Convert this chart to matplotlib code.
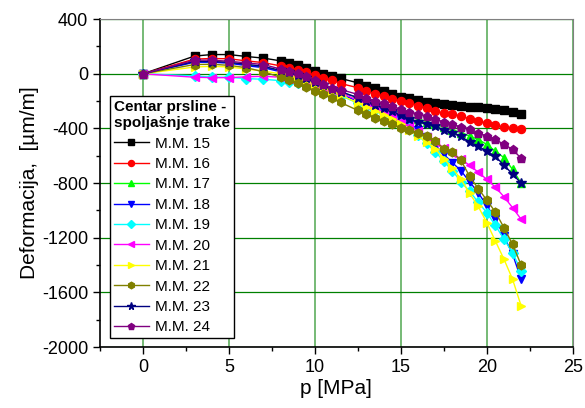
import numpy as np
import matplotlib
matplotlib.use("Agg")
import matplotlib.pyplot as plt
from matplotlib.ticker import MultipleLocator

plt.rcParams['font.family'] = ['Arial', 'Liberation Sans', 'DejaVu Sans']
plt.rcParams['axes.unicode_minus'] = False

p = [0, 3, 4, 5, 6, 7, 8, 8.5, 9, 9.5, 10, 10.5, 11, 11.5, 12.5, 13, 13.5, 14, 14.5,
     15, 15.5, 16, 16.5, 17, 17.5, 18, 18.5, 19, 19.5, 20, 20.5, 21, 21.5, 22]

mm15 = [0, 130, 141, 141, 127, 115, 95, 82, 65, 45, 19, 2, -17, -34, -66, -90, -107, -127, -146,
        -168, -180, -193, -207, -215, -224, -226, -234, -240, -245, -249, -254, -266, -280, -292]
mm16 = [0, 108, 112, 110, 95, 82, 58, 45, 30, 10, -12, -29, -47, -71, -102, -127, -146, -164, -183,
        -200, -212, -232, -252, -275, -287, -295, -310, -330, -342, -362, -374, -392, -400, -407]
mm17 = [0, 88, 88, 82, 65, 50, 20, 5, -15, -35, -65, -90, -115, -135, -175, -200, -220, -245, -265,
        -285, -310, -330, -350, -370, -390, -410, -430, -456, -480, -517, -566, -614, -700, -800]
mm18 = [0, 85, 85, 78, 60, 45, 15, 0, -20, -45, -75, -100, -125, -150, -200, -225, -250, -275, -300,
        -330, -365, -410, -460, -520, -590, -650, -710, -790, -870, -965, -1060, -1190, -1320, -1504]
mm19 = [0, -15, -25, -25, -35, -40, -50, -58, -70, -85, -100, -120, -140, -160, -215, -240, -265, -290, -320,
        -350, -395, -450, -510, -570, -640, -710, -790, -860, -940, -1016, -1110, -1210, -1310, -1443]
mm20 = [0, -25, -28, -28, -22, -18, -25, -35, -45, -60, -75, -95, -115, -135, -195, -225, -250, -280, -310,
        -345, -385, -420, -460, -500, -540, -580, -625, -670, -720, -773, -830, -900, -980, -1065]
mm21 = [0, 50, 55, 50, 35, 20, 0, -15, -35, -55, -80, -105, -130, -155, -215, -245, -275, -300, -330,
        -370, -410, -456, -500, -550, -620, -690, -773, -875, -970, -1089, -1224, -1357, -1504, -1699]
mm22 = [0, 68, 70, 62, 45, 15, -25, -45, -70, -95, -125, -148, -180, -210, -268, -292, -322, -346, -371,
        -395, -412, -432, -455, -493, -548, -575, -634, -750, -840, -924, -1012, -1126, -1248, -1400]
mm23 = [0, 92, 90, 85, 70, 55, 25, 10, -10, -30, -60, -85, -110, -130, -175, -200, -225, -250, -275,
        -300, -330, -350, -368, -385, -410, -430, -458, -500, -530, -566, -605, -668, -735, -800]
mm24 = [0, 100, 100, 92, 80, 68, 35, 20, 5, -17, -45, -78, -102, -115, -151, -175, -200, -212, -237,
        -261, -281, -292, -310, -329, -354, -371, -388, -402, -432, -456, -480, -517, -553, -619]

labels = ["M.M. 15", "M.M. 16", "M.M. 17", "M.M. 18", "M.M. 19",
          "M.M. 20", "M.M. 21", "M.M. 22", "M.M. 23", "M.M. 24"]
series = [mm15, mm16, mm17, mm18, mm19, mm20, mm21, mm22, mm23, mm24]
colors = ['#000000', '#ff0000', '#00ff00', '#0000ff', '#00ffff',
          '#ff00ff', '#ffff00', '#808000', '#000080', '#800080']
markers = ['s', 'o', '^', 'v', 'D', '<', '>', 'h', '*', 'p']
msizes = [5.3, 5.8, 6, 6, 5, 6, 6, 6.3, 7.5, 6.3]

fig = plt.figure(figsize=(5.85, 4.08), dpi=100)
ax = fig.add_axes([0.171, 0.1495, 0.808, 0.8035])

for y, lab, c, m, ms in zip(series, labels, colors, markers, msizes):
    ax.plot(p, y, color=c, marker=m, markersize=ms, markeredgecolor=c,
            linewidth=1.0, label=lab)

ax.set_xlim(-2.5, 25)
ax.set_ylim(-2000, 400)
ax.xaxis.set_major_locator(MultipleLocator(5))
ax.xaxis.set_minor_locator(MultipleLocator(2.5))
ax.yaxis.set_major_locator(MultipleLocator(400))
ax.yaxis.set_minor_locator(MultipleLocator(200))
ax.tick_params(which='both', direction='out', top=False, right=False, labelsize=13)
ax.tick_params(which='major', length=5, width=1)
ax.tick_params(which='minor', length=3, width=1)
ax.xaxis.grid(True, color='#6ab46a', linewidth=1.3)
ax.yaxis.grid(True, color='#008000', linewidth=0.9)
ax.set_axisbelow(True)
for s in ['left', 'bottom']:
    ax.spines[s].set_linewidth(1.2)
for s in ['top', 'right']:
    ax.spines[s].set_color('#808080')

ax.set_xlabel('p [MPa]', fontsize=15, labelpad=2)
ax.set_ylabel('Deformacija,  [\u00b5m/m]', fontsize=15, labelpad=2)

leg = ax.legend(loc='upper left', bbox_to_anchor=(0.021, 0.765), borderaxespad=0,
                title='Centar prsline -\nspoljašnje trake', alignment='left',
                fontsize=11, title_fontproperties={'weight': 'bold', 'size': 11},
                fancybox=False, framealpha=1, edgecolor='black',
                handlelength=2.3, handletextpad=0.4, labelspacing=0.42,
                borderpad=0.25, numpoints=1, markerscale=0.75)
leg.get_frame().set_linewidth(1.0)

fig.savefig('out.png', dpi=100)
